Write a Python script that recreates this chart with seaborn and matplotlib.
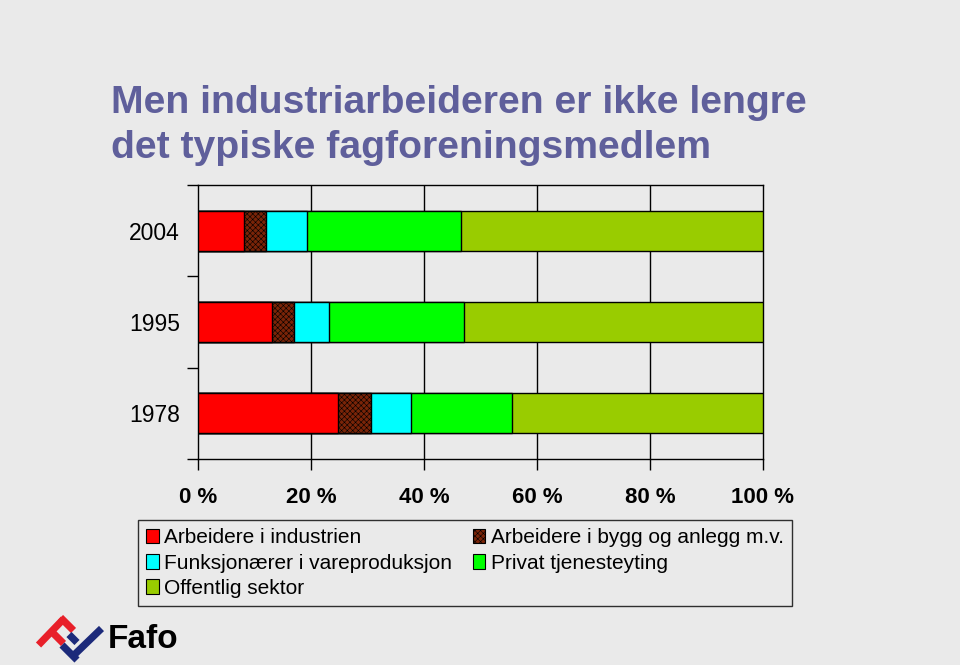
import matplotlib
matplotlib.use("Agg")
import matplotlib.pyplot as plt
import seaborn as sns
import numpy as np
import pandas as pd
from matplotlib.patches import Patch
from matplotlib.lines import Line2D

years = ["2004", "1995", "1978"]
series = ["Arbeidere i industrien", "Arbeidere i bygg og anlegg m.v.",
          "Funksjonærer i vareproduksjon", "Privat tjenesteyting", "Offentlig sektor"]
industri = [8.2, 13.1, 24.8]
bygg = [3.9, 3.9, 5.9]
funksjonaerer = [7.2, 6.1, 7.0]
privat = [27.3, 24.0, 17.8]
offentlig = [53.4, 52.9, 44.5]
colors = ["#FF0000", "#7A2408", "#00FFFF", "#00FF00", "#99CC00"]
hatches = [None, "xxxxxx", None, None, None]
xticks = [0, 20, 40, 60, 80, 100]
xticklabels = ["0 %", "20 %", "40 %", "60 %", "80 %", "100 %"]

bg = "#EAEAEA"
sns.set_theme(style="white")
plt.rcParams["font.family"] = ["Liberation Sans", "DejaVu Sans"]
plt.rcParams["hatch.linewidth"] = 0.4
for k in ["text.color", "axes.labelcolor", "xtick.color", "ytick.color"]:
    plt.rcParams[k] = "black"

df = pd.DataFrame({"year": years, series[0]: industri, series[1]: bygg,
                   series[2]: funksjonaerer, series[3]: privat, series[4]: offentlig})
vals = df[series].to_numpy()
cum = vals.cumsum(axis=1)
cum = cum / cum[:, -1:] * 100

W, H = 960, 665
fig = plt.figure(figsize=(W / 100, H / 100), dpi=100, facecolor=bg)
ax = fig.add_axes([198 / W, 1 - 459 / H, (763 - 198) / W, (459 - 185) / H])
ax.set_facecolor(bg)

for xv in xticks[1:-1]:
    ax.axvline(xv, color="black", lw=1.0, zorder=0)

for i in range(len(series) - 1, -1, -1):
    d = pd.DataFrame({"year": years, "v": cum[:, i]})
    sns.barplot(data=d, x="v", y="year", orient="h", ax=ax, color=colors[i],
                width=0.44, edgecolor="black", linewidth=1.0, saturation=1, zorder=2 + (5 - i))
    if hatches[i]:
        n = len(years)
        for p in ax.patches[-n:]:
            p.set_hatch(hatches[i])

ax.set_xlim(0, 100)
ax.set_ylim(2.5, -0.5)
ax.set_xlabel("")
ax.set_ylabel("")
ax.set_xticks(xticks)
ax.set_xticklabels(xticklabels, fontsize=16, fontweight="bold")
ax.set_yticks([-0.5, 0.5, 1.5, 2.5])
ax.set_yticklabels([])
ax.set_yticks([0, 1, 2], minor=True)
ax.set_yticklabels(years, minor=True, fontsize=16.5)
ax.tick_params(axis="y", which="major", direction="out", length=8, width=1, color="black", left=True)
ax.tick_params(axis="y", which="minor", length=0, pad=13)
ax.tick_params(axis="x", direction="out", length=8, width=1, color="black", bottom=True, pad=12)
for s in ax.spines.values():
    s.set_visible(True)
    s.set_color("black")
    s.set_linewidth(1.0)

handles = []
for i, name in enumerate(series):
    handles.append(Patch(facecolor=colors[i], edgecolor="black", hatch=hatches[i], linewidth=0.8, label=name))
order = [0, 2, 4, 1, 3]
leg = fig.legend([handles[k] for k in order], [series[k] for k in order],
                 ncol=2, loc="upper left", bbox_to_anchor=(138 / W, 1 - 520 / H),
                 frameon=True, fancybox=False, edgecolor="black", facecolor=bg,
                 fontsize=15, handlelength=0.6, handleheight=0.7, handletextpad=0.25,
                 columnspacing=1.0, labelspacing=0.3, borderpad=0.4, borderaxespad=0)
leg.get_frame().set_linewidth(1.0)

tcol = "#5F5F9B"
fig.text(111 / W, 1 - 113 / H, "Men industriarbeideren er ikke lengre", color=tcol,
         fontsize=28.2, fontweight="bold", va="baseline", ha="left")
fig.text(111 / W, 1 - 158 / H, "det typiske fagforeningsmedlem", color=tcol,
         fontsize=28.2, fontweight="bold", va="baseline", ha="left")

# Fafo logo (decorative bands)
def band(p0, p1, col):
    xs = [p0[0] / W, p1[0] / W]
    ys = [1 - p0[1] / H, 1 - p1[1] / H]
    fig.add_artist(Line2D(xs, ys, transform=fig.transFigure, color=col, lw=5.2,
                          solid_capstyle="butt"))

red, blue = "#E8202A", "#1C2A7A"
band((38.5, 645), (63.5, 619), red)
band((60.5, 617.5), (73.5, 630.5), red)
band((51.5, 631.5), (63.5, 643.5), red)
band((62, 645), (77, 660), blue)
band((73, 656), (101.5, 628.5), blue)
band((69, 634.5), (77, 642.5), blue)
fig.text(108 / W, 1 - 648 / H, "Fafo", color="black", fontsize=24, fontweight="bold", va="baseline", ha="left")

fig.savefig("out.png", dpi=100, facecolor=bg)
